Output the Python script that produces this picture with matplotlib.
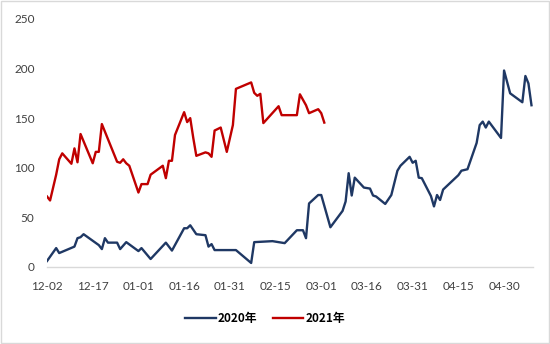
import matplotlib.pyplot as plt
from matplotlib.patches import Rectangle

plt.rcParams['font.family'] = ['Lato', 'Noto Sans CJK SC']

# x = days counted from 12-02
days_2020 = [0, 3, 4, 9, 10, 11, 12, 17, 18, 19, 20, 23, 24, 26, 30, 31, 34, 39, 41, 45,
             46, 47, 49, 52, 53, 54, 55, 62, 67, 68, 74, 76, 78, 82, 84, 85, 86, 89, 90, 93,
             97, 98, 99, 100, 101, 104, 106, 107, 108, 111, 113, 115, 116, 119, 120, 121, 122, 123, 126, 127,
             128, 129, 130, 135, 136, 138, 141, 142, 143, 144, 145, 149, 150, 152, 156, 157, 158, 159]
vals_2020 = [6, 19, 14, 20.5, 29, 30, 33, 22, 18, 29, 24.5, 24.5, 18, 25, 16, 19, 8, 24.5, 16.5, 39,
             39, 42, 33, 32, 20.5, 23, 17, 17, 4, 25, 26, 25, 24, 37, 37, 29, 64, 72.5, 72.5, 40,
             56.5, 66, 94.5, 72, 90, 80, 79, 72, 71, 63.5, 72.5, 97, 102, 111, 105, 107, 90, 89.5, 71.5, 61,
             72.5, 67.5, 78, 92.5, 97, 98.5, 125, 143, 146.5, 140.5, 146.5, 130, 198, 175, 166, 192.5, 185, 163]

days_2021 = [0, 1, 3, 4, 5, 8, 9, 10, 11, 15, 16, 17, 18, 23, 24, 25, 26, 27, 30, 31,
             33, 34, 38, 39, 40, 41, 42, 45, 46, 47, 48, 49, 52, 53, 54, 55, 57, 59, 61, 62,
             67, 68, 69, 70, 71, 76, 77, 82, 83, 85, 86, 89, 90, 91]
vals_2021 = [71, 67, 93, 108.5, 114.5, 104, 119.5, 105.5, 134, 104.5, 116, 116, 144, 106, 105, 108.5, 104.5, 102, 75, 83.5,
             83.5, 93, 102, 89.5, 107, 107, 133, 156, 146, 150, 130, 112, 115.5, 114.5, 111, 137.5, 140.5, 116, 143, 179.5,
             186, 175.5, 172.5, 174.5, 145, 162, 153, 153, 174, 163, 155, 159, 155, 145.5]

tick_days = [0, 15, 30, 45, 60, 75, 90, 105, 120, 135, 150]
tick_labels = ['12-02', '12-17', '01-01', '01-16', '01-31', '02-15',
               '03-01', '03-16', '03-31', '04-15', '04-30']

fig = plt.figure(figsize=(5.5, 3.44), dpi=100)
ax = fig.add_axes([0.0855, 0.224, 0.8836, 0.721])

ax.plot(days_2020, vals_2020, color='#1f3864', lw=1.7, label='2020年')
ax.plot(days_2021, vals_2021, color='#c00000', lw=1.7, label='2021年')

ax.set_xlim(0, 159.5)
ax.set_ylim(0, 250)
ax.set_yticks(range(0, 251, 50))
ax.set_xticks(tick_days)
ax.set_xticklabels(tick_labels)

for s in ['top', 'right', 'left']:
    ax.spines[s].set_visible(False)
ax.spines['bottom'].set_color('#d9d9d9')
ax.spines['bottom'].set_linewidth(1)
ax.tick_params(length=0, labelsize=8.5, colors='#404040')
ax.tick_params(axis='x', pad=10)
ax.tick_params(axis='y', pad=9)

fig.legend(loc='center', bbox_to_anchor=(0.482, 0.073), ncol=2, frameon=False,
           prop={'family': ['Noto Sans CJK SC'], 'weight': 'bold', 'size': 8.5},
           handlelength=2.6, handletextpad=0.2, columnspacing=1.3)

# chart area border
fig.patches.append(Rectangle((0.001, 0.002), 0.997, 0.995, transform=fig.transFigure,
                             fill=False, edgecolor='#d9d9d9', lw=1))

fig.savefig('out.png', dpi=100)
